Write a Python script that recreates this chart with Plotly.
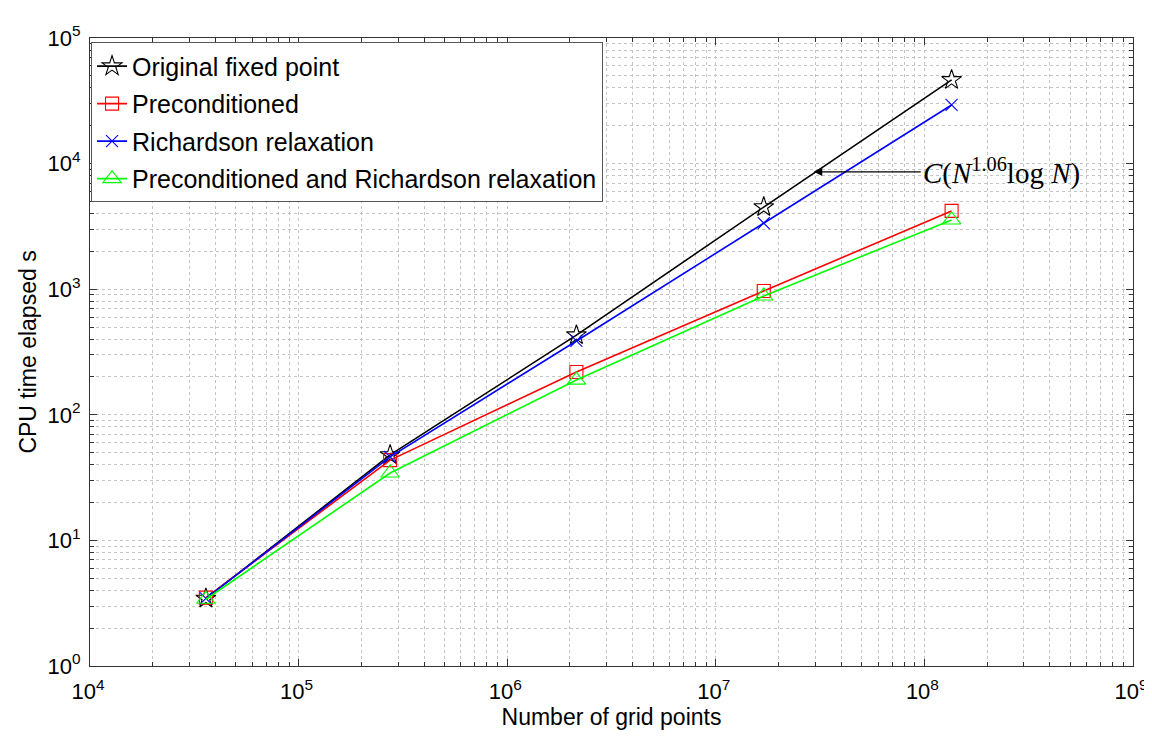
import plotly.graph_objects as go
import math

# ---- data ----
grid_points = [35937, 274625, 2146689, 16974593, 135005697]
original_fixed_point = [3.45, 47.9, 431, 4510, 46400]
preconditioned = [3.5, 43.6, 219, 968, 4200]
richardson = [3.45, 46.2, 387, 3360, 29300]
precond_richardson = [3.4, 34.4, 189, 883, 3560]

series_names = ["Original fixed point", "Preconditioned", "Richardson relaxation",
                "Preconditioned and Richardson relaxation"]
series_values = [original_fixed_point, preconditioned, richardson, precond_richardson]
series_colors = ["#000000", "#ff0000", "#0000ff", "#00ff00"]
series_symbols = ["star-open", "square-open", "x-thin-open", "triangle-up-open"]
series_sizes = [15, 13, 12, 16]

x_tick_exponents = [4, 5, 6, 7, 8, 9]
y_tick_exponents = [0, 1, 2, 3, 4, 5]

annot_text = "<i>C</i>(<i>N</i><sup>1.06</sup>log<i> N</i>)"
annot_head = (2.95e7, 8600)
annot_tail_x = 9.6e7

fig = go.Figure()
for i, (name, vals, col, sym, sz) in enumerate(zip(series_names, series_values, series_colors,
                                                  series_symbols, series_sizes)):
    fig.add_trace(go.Scatter(
        x=grid_points, y=vals, mode="lines+markers", name=name,
        legendgroup=f"g{i}",
        line=dict(color=col, width=1.6),
        marker=dict(symbol=sym, size=sz, color=col, line=dict(color=col, width=1.1)),
    ))

grid_col = "#c4c4c4"
font_sans = "Liberation Sans, Arial, sans-serif"
axis_common = dict(
    type="log",
    showline=True, linecolor="#333333", linewidth=1, mirror="allticks",
    ticks="inside", ticklen=7, tickcolor="#333333",
    showgrid=True, gridcolor=grid_col, griddash="dot", gridwidth=1,
    zeroline=False,
    tickfont=dict(family=font_sans, size=22, color="#000"),
    minor=dict(dtick="D1", ticks="inside", ticklen=4, tickcolor="#333333",
               showgrid=True, gridcolor=grid_col, griddash="dot", gridwidth=1),
)

fig.update_xaxes(**axis_common, range=[4, 9],
                 tickvals=[10 ** e for e in x_tick_exponents],
                 ticktext=[f"10<sup>{e}</sup>" for e in x_tick_exponents],
                 ticklabelstandoff=6, ticklabelshift=-2,
                 title=dict(text="Number of grid points", standoff=4,
                            font=dict(family=font_sans, size=23, color="#000")))
fig.update_yaxes(**axis_common, range=[0, 5],
                 tickvals=[10 ** e for e in y_tick_exponents],
                 ticktext=[f"10<sup>{e}</sup>" for e in y_tick_exponents],
                 ticklabelstandoff=4,
                 title=dict(text="CPU time elapsed s", standoff=4,
                            font=dict(family=font_sans, size=23, color="#000")))

fig.add_annotation(
    x=math.log10(annot_head[0]), y=math.log10(annot_head[1]),
    ax=math.log10(annot_tail_x), ay=math.log10(annot_head[1]),
    xref="x", yref="y", axref="x", ayref="y",
    text=annot_text, showarrow=True, arrowhead=2, arrowsize=1.3, arrowwidth=1.3,
    arrowcolor="#000", xanchor="left", yanchor="middle",
    font=dict(family="Liberation Serif, DejaVu Serif, serif", size=29, color="#000"),
)

fig.update_layout(
    width=1152, height=738,
    margin=dict(l=82, r=21, t=30, b=80),
    paper_bgcolor="white", plot_bgcolor="white",
    showlegend=True,
    legend=dict(x=0.001, y=0.993, xanchor="left", yanchor="top",
                bgcolor="white", bordercolor="#555555", borderwidth=1,
                font=dict(family=font_sans, size=25, color="#000"),
                itemwidth=30, tracegroupgap=2),
)

fig.write_html("out.html")
